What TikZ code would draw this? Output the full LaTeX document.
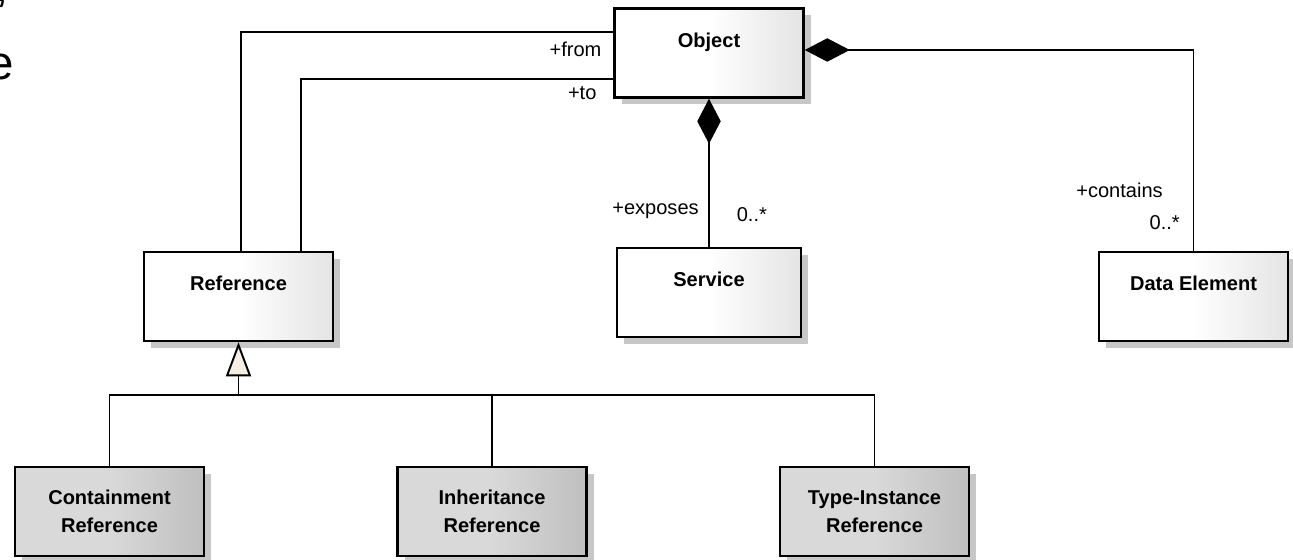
\documentclass[tikz,border=0pt]{standalone}
\usepackage{fontspec}
\setmainfont{Liberation Sans}
\usetikzlibrary{positioning, arrows.meta, shadows, calc}

\definecolor{genfill}{HTML}{F5EEE2}

\begin{document}
\begin{tikzpicture}[
        cls/.style={draw, line width=1.45pt, minimum width=#1, minimum height=1.78cm,
            align=center, font=\bfseries\fontsize{11.4}{15.9}\selectfont,
            left color=white, right color=gray!21, middle color=white,
            drop shadow={shadow xshift=.14cm, shadow yshift=-.14cm,
                fill=black!22, opacity=1}},
        cls/.default=3.78cm,
        subcls/.style={cls, left color=gray!30, right color=gray!50, middle color=gray!30},
        lbl/.style={font=\fontsize{11.4}{13}\selectfont},
        assoc/.style={line width=1.1pt},
        comp/.style={assoc, {Diamond[length=.9cm, width=.47cm]}-},
        gen/.style={assoc, -{Triangle[length=.68cm, width=.5cm, fill=genfill]}},
    ]
    \useasboundingbox (0,0) rectangle (25.86,11.2);

    % letters cut off at the left margin
    \node[font=\fontsize{27}{30}\selectfont, anchor=base east, inner sep=0] (cutE) at (.28, 9.6) {e};
    \node[font=\fontsize{27}{30}\selectfont, anchor=base east, inner sep=0] (cutComma) at (.18, 11.16) {,};

    % =============================================
    % CLASSES
    % =============================================
    \node[cls]        (object)    at (14.18, 10.14) {Object\\[-6pt]\strut};
    \node[cls=3.68cm] (service)   at (14.18, 5.35)  {Service\\[-6pt]\strut};
    \node[cls]        (dataelem)  at (23.87, 5.27)  {Data Element\\[-6pt]\strut};
    \node[cls]        (reference) at (4.77,  5.27)  {Reference\\[-6pt]\strut};

    \node[subcls] (containref) at (2.19,  0.97) {Containment\\Reference};
    \node[subcls] (inheritref) at (9.84,  0.97) {Inheritance\\Reference};
    \node[subcls] (typeref)    at (17.49, 0.97) {Type-Instance\\Reference};

    % =============================================
    % ASSOCIATIONS
    % =============================================
    \draw[assoc] ([yshift=.42cm]object.west)
        node[lbl, below left=.06cm and .1cm] {+from} -| ([xshift=.05cm]reference.north);
    \draw[assoc] ([yshift=-.52cm]object.west)
        node[lbl, below left=.02cm and .2cm] {+to} -| ([xshift=1.25cm]reference.north);

    % Composiciones
    \draw[comp] (object.south) --
        node[lbl, pos=.76, left=2pt] {+exposes}
        node[lbl, pos=.78, right=.42cm] {0..*} (service.north);
    \draw[comp] ([yshift=.06cm]object.east) -|
        node[lbl, pos=.85, left=.48cm] {+contains}
        node[lbl, pos=.93, left=.14cm] {0..*} (dataelem.north);

    % Generalizacion
    \coordinate (bus) at ($(reference.south)+(0,-1.06)$);
    \draw[gen]   (bus) -- (reference.south);
    \draw[assoc] (containref.north) |- (bus) -| (typeref.north);
    \draw[assoc] (inheritref.north) -- (inheritref.north |- bus);

\end{tikzpicture}
\end{document}
